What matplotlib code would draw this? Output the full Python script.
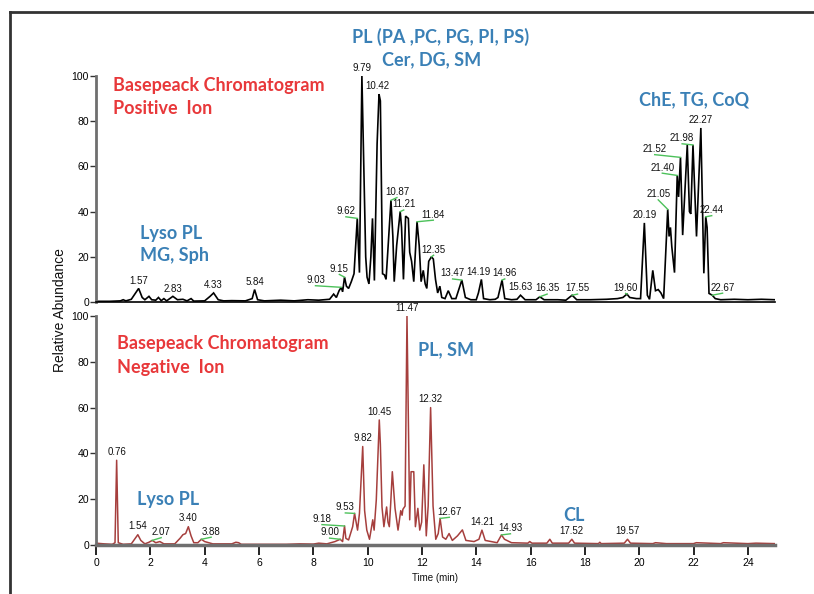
import matplotlib
matplotlib.use("Agg")
import matplotlib.pyplot as plt
from matplotlib import font_manager as fm
from matplotlib.lines import Line2D

# ---------------- data ----------------
pos_time = [0.0, 0.5, 0.9, 1.0, 1.1, 1.3, 1.4, 1.57, 1.7, 1.8, 1.95, 2.05, 2.2, 2.3, 2.4, 2.5, 2.6,
            2.83, 3.0, 3.2, 3.35, 3.5, 3.6, 4.0, 4.2, 4.33, 4.5, 4.7, 5.0, 5.5, 5.75, 5.84, 5.95,
            6.2, 6.8, 7.3, 7.8, 8.2, 8.6, 8.75, 8.85, 8.95, 9.03, 9.08, 9.15, 9.22, 9.3, 9.4, 9.5,
            9.62, 9.70, 9.79, 9.93, 9.98, 10.05, 10.12, 10.18, 10.25, 10.35, 10.42, 10.47, 10.55,
            10.62, 10.68, 10.86, 10.93, 10.98, 11.07, 11.2, 11.25, 11.32, 11.4, 11.5, 11.55, 11.62,
            11.7, 11.82, 11.9, 11.97, 12.05, 12.12, 12.18, 12.25, 12.35, 12.42, 12.5, 12.58, 12.66,
            12.73, 12.85, 12.97, 13.1, 13.25, 13.47, 13.6, 13.8, 14.0, 14.08, 14.19, 14.27, 14.5,
            14.7, 14.8, 14.95, 15.05, 15.3, 15.5, 15.63, 15.8, 16.2, 16.34, 16.5, 17.0, 17.3, 17.53,
            17.7, 18.2, 18.8, 19.2, 19.4, 19.55, 19.65, 19.9, 20.05, 20.19, 20.3, 20.38, 20.5, 20.6,
            20.7, 20.8, 20.9, 21.05, 21.1, 21.15, 21.2, 21.3, 21.4, 21.45, 21.52, 21.6, 21.77, 21.85,
            21.9, 21.98, 22.11, 22.27, 22.38, 22.45, 22.5, 22.57, 22.69, 22.8, 23.0, 23.5, 24.0,
            24.5, 25.0]
pos_int = [0.3, 0.3, 0.5, 1.0, 0.5, 1.2, 3.0, 6.0, 2.0, 1.0, 2.5, 1.0, 0.8, 2.0, 0.6, 1.5, 0.5,
           2.5, 1.0, 1.2, 0.5, 1.5, 0.4, 0.5, 2.5, 4.0, 1.0, 0.5, 0.6, 0.5, 1.5, 5.5, 1.0,
           0.5, 0.8, 0.5, 1.0, 0.8, 1.2, 3.5, 2.0, 5.0, 6.5, 4.5, 11.0, 7.0, 6.0, 9.0, 12.5,
           37.0, 13.0, 100.0, 20.0, 11.0, 8.0, 20.0, 37.0, 9.5, 70.0, 92.0, 89.0, 12.5,
           12.0, 10.0, 45.0, 29.0, 9.0, 25.0, 40.0, 33.0, 10.0, 38.0, 37.0, 22.0, 18.0,
           9.0, 35.5, 25.0, 9.0, 14.0, 8.0, 6.0, 18.0, 20.0, 19.0, 10.0, 4.0, 7.0,
           2.0, 1.5, 5.0, 1.5, 1.5, 9.7, 2.0, 1.0, 1.0, 4.0, 10.0, 1.5, 1.0,
           1.2, 2.0, 9.7, 1.5, 1.0, 1.2, 3.0, 1.0, 1.0, 2.3, 1.0, 1.0, 0.8, 3.0,
           1.0, 1.0, 1.2, 1.5, 2.0, 3.5, 2.0, 1.5, 1.5, 35.0, 3.0, 1.2, 14.0, 5.0,
           5.5, 4.0, 1.5, 41.0, 29.0, 33.0, 24.5, 13.0, 56.0, 46.5, 64.0, 29.6, 69.5, 40.0,
           39.0, 69.5, 29.0, 77.0, 12.7, 37.7, 33.0, 3.8, 3.0, 1.5, 1.0, 1.2, 1.0,
           1.2, 1.0]

neg_time = [0.0, 0.3, 0.6, 0.7, 0.76, 0.82, 1.0, 1.3, 1.45, 1.54, 1.65, 1.8, 1.95, 2.07, 2.2, 2.35,
            2.5, 2.9, 3.1, 3.2, 3.3, 3.4, 3.5, 3.6, 3.75, 3.88, 4.0, 4.3, 5.0, 5.15, 5.25, 5.35,
            6.0, 7.0, 7.5, 8.0, 8.2, 8.5, 8.65, 8.8, 8.99, 9.08, 9.15, 9.2, 9.3, 9.45, 9.52, 9.63,
            9.7, 9.82, 9.89, 9.97, 10.07, 10.15, 10.19, 10.24, 10.32, 10.43, 10.47, 10.53, 10.6,
            10.7, 10.75, 10.8, 10.85, 10.91, 11.01, 11.12, 11.22, 11.27, 11.3, 11.38, 11.45, 11.55,
            11.6, 11.7, 11.76, 11.85, 11.92, 11.99, 12.07, 12.16, 12.23, 12.32, 12.41, 12.51, 12.6,
            12.67, 12.76, 12.88, 13.0, 13.12, 13.31, 13.49, 13.62, 13.92, 14.1, 14.21, 14.33, 14.77,
            14.93, 15.04, 15.3, 15.9, 15.97, 16.05, 16.6, 16.71, 16.8, 17.4, 17.52, 17.62, 18.5,
            18.55, 18.6, 19.45, 19.57, 19.68, 20.5, 20.6, 21.0, 22.0, 22.1, 23.0, 23.1, 24.0, 24.3,
            25.0]
neg_int = [0.8, 0.5, 0.3, 1.0, 37.0, 1.0, 0.3, 0.5, 3.0, 4.5, 2.0, 0.5, 1.2, 2.0, 1.0, 1.5,
           0.5, 0.5, 3.0, 4.5, 5.0, 8.0, 4.0, 1.0, 1.0, 2.5, 1.5, 0.5, 0.5, 1.2, 1.0, 0.3,
           0.3, 0.3, 0.5, 0.4, 0.8, 0.5, 1.0, 1.5, 2.5, 1.5, 8.3, 2.9, 2.2, 8.0, 13.8, 6.5,
           13.8, 43.0, 15.0, 6.5, 2.5, 8.0, 11.0, 6.5, 19.7, 54.6, 44.0, 16.6, 8.0,
           16.6, 10.0, 8.0, 18.0, 32.0, 16.0, 6.5, 15.0, 13.0, 15.6, 17.0, 100.0, 11.0,
           32.0, 32.0, 8.0, 16.0, 6.5, 10.0, 35.0, 4.0, 17.0, 60.0, 17.0, 2.5, 5.0,
           11.6, 3.5, 2.5, 5.0, 2.0, 4.0, 6.6, 2.0, 1.5, 2.5, 6.5, 2.0, 1.0,
           4.4, 2.5, 1.0, 0.8, 1.5, 0.8, 0.8, 2.5, 0.8, 0.8, 2.5, 0.8, 0.6,
           1.2, 0.6, 0.8, 2.5, 0.8, 0.6, 1.0, 0.6, 0.6, 1.0, 0.6, 1.0, 0.6, 0.8,
           0.6]

# peak labels: text, peak time, peak height
pos_labels = ["1.57", "2.83", "4.33", "5.84", "9.03", "9.15", "9.62", "9.79", "10.42", "10.87",
              "11.21", "11.84", "12.35", "13.47", "14.19", "14.96", "15.63", "16.35", "17.55",
              "19.60", "20.19", "21.05", "21.40", "21.52", "21.98", "22.27", "22.44", "22.67"]
pos_peak_t = [1.57, 2.83, 4.33, 5.84, 9.03, 9.15, 9.62, 9.79, 10.42, 10.86, 11.2, 11.82, 12.35,
              13.47, 14.19, 14.95, 15.63, 16.34, 17.53, 19.55, 20.19, 21.05, 21.4, 21.52, 21.98,
              22.27, 22.45, 22.69]
pos_peak_h = [6.0, 2.5, 4.0, 5.5, 6.5, 11.0, 37.0, 100.0, 92.0, 45.0, 40.0, 35.5, 20.0, 9.7, 10.0,
              9.7, 3.0, 2.3, 3.0, 3.5, 35.0, 41.0, 56.0, 64.0, 69.5, 77.0, 37.7, 3.0]

neg_labels = ["0.76", "1.54", "2.07", "3.40", "3.88", "9.00", "9.18", "9.53", "9.82", "10.45",
              "11.47", "12.32", "12.67", "14.21", "14.93", "17.52", "19.57"]
neg_peak_t = [0.76, 1.54, 2.07, 3.4, 3.88, 8.99, 9.15, 9.52, 9.82, 10.43, 11.45, 12.32, 12.67,
              14.21, 14.93, 17.52, 19.57]
neg_peak_h = [37.0, 4.5, 2.0, 8.0, 2.5, 2.5, 8.3, 13.8, 43.0, 54.6, 100.0, 60.0, 11.6, 6.5, 4.4,
              2.5, 2.5]

y_ticks = [0, 20, 40, 60, 80, 100]
x_ticks = [0, 2, 4, 6, 8, 10, 12, 14, 16, 18, 20, 22, 24]

# ---------------- layout / style ----------------
# label offsets (dx in min, dy in %) and whether a green leader line is drawn
pos_layout = [(0, 1.2, 0), (0, 1.2, 0), (0, 1.2, 0), (0, 1.2, 0), (-0.95, 1.0, 1), (-0.19, 1.5, 1),
              (-0.42, 1.0, 1), (0, 1.2, 0), (-0.05, 1.2, 0), (0.22, 1.5, 1), (0.13, 1.0, 1),
              (0.6, 1.0, 1), (0.08, 1.0, 1), (-0.34, 0.8, 1), (-0.1, 1.2, 0), (0.1, 0.8, 1),
              (0.0, 1.5, 0), (0.27, 1.5, 1), (0.2, 0.8, 1), (-0.05, 0.6, 1), (0, 1.2, 0),
              (-0.35, 4.5, 1), (-0.55, 1.3, 1), (-0.95, 1.5, 1), (-0.4, 0.8, 1), (0, 1.2, 0),
              (0.22, 0.8, 1), (0.38, 1.2, 1)]
neg_layout = [(0, 1.5, 0), (0, 1.5, 0), (0.33, 1.5, 1), (0, 1.5, 0), (0.36, 1.2, 1),
              (-0.39, 0.8, 1), (-0.83, 0.9, 1), (-0.34, 0.5, 1), (0, 1.5, 0), (0, 1.5, 0),
              (0, 1.5, 0), (0, 1.5, 0), (0.34, 0.8, 1), (0, 1.5, 0), (0.33, 0.8, 1),
              (0, 1.5, 0), (0, 1.5, 0)]

names = {f.name for f in fm.fontManager.ttflist}
num_font = "Liberation Sans Narrow" if "Liberation Sans Narrow" in names else "Liberation Sans"
title_font = "Lato" if "Lato" in names else "DejaVu Sans"

RED = "#e8383a"
BLUE = "#3a80b6"
GREEN = "#4cc15a"
GREY = "#6f6f6f"
NEG_COLOR = "#9c2a28"

fig = plt.figure(figsize=(8.14, 5.94), dpi=100)
W, H = 814, 594

def frac_rect(x0, y0, x1, y1):
    return [x0 / W, 1 - y1 / H, (x1 - x0) / W, (y1 - y0) / H]

ax1 = fig.add_axes(frac_rect(96, 76, 775, 302))
ax2 = fig.add_axes(frac_rect(96, 316, 775, 545))

ax1.plot(pos_time, pos_int, color="black", lw=1.2, solid_joinstyle="miter")
ax2.plot(neg_time, neg_int, color=NEG_COLOR, lw=1.1, alpha=0.9)

for ax in (ax1, ax2):
    ax.set_xlim(0, 25)
    ax.set_ylim(0, 100)
    ax.set_yticks(y_ticks)
    for s in ("top", "right"):
        ax.spines[s].set_visible(False)
    ax.spines["left"].set_color(GREY)
    ax.spines["left"].set_linewidth(2.0)
    ax.tick_params(axis="y", direction="out", length=4, width=1.0, color="#333333",
                   labelsize=7.5, pad=1)
    for lab in ax.get_yticklabels():
        lab.set_fontfamily(num_font)

ax1.spines["bottom"].set_color("black")
ax1.spines["bottom"].set_linewidth(1.2)
ax1.set_xticks([])

ax2.spines["bottom"].set_color(GREY)
ax2.spines["bottom"].set_linewidth(2.5)
ax2.set_xticks(x_ticks)
ax2.tick_params(axis="x", direction="out", length=7, width=1.2, color="black",
                labelsize=7.5, pad=2)
for lab in ax2.get_xticklabels():
    lab.set_fontfamily(num_font)

def put_labels(ax, labels, ts, hs, layout):
    for txt, t, h, (dx, dy, g) in zip(labels, ts, hs, layout):
        lx, ly = t + dx, h + dy
        ax.text(lx, ly, txt, ha="center", va="bottom", fontsize=7, family=num_font,
                color="#111111", clip_on=False)
        if g:
            ax.plot([lx, t], [ly - 0.3, h], color=GREEN, lw=1.0, clip_on=False)

put_labels(ax1, pos_labels, pos_peak_t, pos_peak_h, pos_layout)
put_labels(ax2, neg_labels, neg_peak_t, neg_peak_h, neg_layout)

tk = dict(family=title_font, fontweight="bold", fontsize=13)
# top panel annotations
ax1.text(0.025, 0.96, "Basepeack Chromatogram", transform=ax1.transAxes, color=RED,
         ha="left", va="center", **tk)
ax1.text(0.025, 0.854, "Positive  Ion", transform=ax1.transAxes, color=RED,
         ha="left", va="center", **tk)
ax1.text(0.508, 1.173, "PL (PA ,PC, PG, PI, PS)", transform=ax1.transAxes, color=BLUE,
         ha="center", va="center", **tk)
ax1.text(0.495, 1.07, "Cer, DG, SM", transform=ax1.transAxes, color=BLUE,
         ha="center", va="center", **tk)
ax1.text(0.881, 0.894, "ChE, TG, CoQ", transform=ax1.transAxes, color=BLUE,
         ha="center", va="center", **tk)
ax1.text(0.065, 0.305, "Lyso PL", transform=ax1.transAxes, color=BLUE,
         ha="left", va="center", **tk)
ax1.text(0.065, 0.204, "MG, Sph", transform=ax1.transAxes, color=BLUE,
         ha="left", va="center", **tk)
# bottom panel annotations
ax2.text(0.031, 0.878, "Basepeack Chromatogram", transform=ax2.transAxes, color=RED,
         ha="left", va="center", **tk)
ax2.text(0.031, 0.773, "Negative  Ion", transform=ax2.transAxes, color=RED,
         ha="left", va="center", **tk)
ax2.text(0.474, 0.852, "PL, SM", transform=ax2.transAxes, color=BLUE,
         ha="left", va="center", **tk)
ax2.text(0.06, 0.197, "Lyso PL", transform=ax2.transAxes, color=BLUE,
         ha="left", va="center", **tk)
ax2.text(0.688, 0.131, "CL", transform=ax2.transAxes, color=BLUE,
         ha="left", va="center", **tk)

fig.text(60 / W, 1 - 310 / H, "Relative Abundance", rotation=90, ha="center", va="center",
         fontsize=10, family="Liberation Sans", color="#111111")
fig.text(435 / W, 1 - 578 / H, "Time (min)", ha="center", va="center",
         fontsize=7, family=num_font, color="#111111")

# outer frame (left and top edges)
fig.add_artist(Line2D([10 / W, 10 / W], [0, 1 - 12 / H], transform=fig.transFigure,
                      color="#333333", lw=2.0))
fig.add_artist(Line2D([10 / W, 1], [1 - 12 / H, 1 - 12 / H], transform=fig.transFigure,
                      color="#333333", lw=2.0))

fig.savefig("out.png", dpi=100)
